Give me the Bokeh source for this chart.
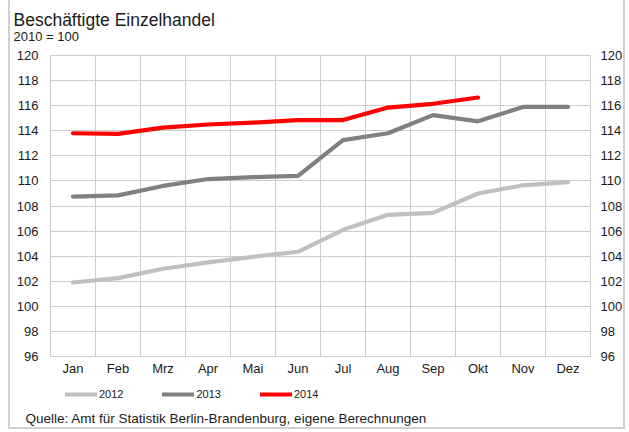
import numpy as np
from bokeh.plotting import figure
from bokeh.models import (FixedTicker, LinearAxis, Legend, LegendItem, Label,
                          Range1d, ColumnDataSource)
from bokeh.embed import file_html
from bokeh.resources import INLINE

# ---- data ----
months = ["Jan", "Feb", "Mrz", "Apr", "Mai", "Jun", "Jul", "Aug", "Sep", "Okt", "Nov", "Dez"]
y2012 = [101.9, 102.25, 103.0, 103.5, 103.95, 104.35, 106.1, 107.3, 107.45, 109.0, 109.65, 109.9]
y2013 = [108.75, 108.85, 109.6, 110.15, 110.3, 110.4, 113.25, 113.8, 115.25, 114.75, 115.9, 115.9]
y2014 = [113.8, 113.75, 114.25, 114.5, 114.65, 114.85, 114.85, 115.85, 116.15, 116.65]
years = ["2012", "2013", "2014"]
colors = ["#c0c0c0", "#808080", "#ff0000"]
y_ticks = list(range(96, 121, 2))

title_text = "Beschäftigte Einzelhandel"
subtitle_text = "2010 = 100"
source_text = "Quelle: Amt für Statistik Berlin-Brandenburg, eigene Berechnungen"

FONT = "Liberation Sans"
GRID = "#cccccc"
TXT = "#1a1a1a"

# ---- layout (pixels) ----
W, H = 617, 429            # canvas size
PLOT_L, PLOT_T = 40, 55    # plot area left / top inside canvas
COL_W = 45                 # width of one month column
PLOT_H = 301               # height of plot area (96..120)

n = len(months)
ymin, ymax = y_ticks[0], y_ticks[-1]
ppu = PLOT_H / (ymax - ymin)        # pixels per y unit


def dx(px):   # canvas x pixel -> data x
    return (px - PLOT_L) / COL_W


def dy(py):   # canvas y pixel (from top) -> data y
    return ymax - (py - PLOT_T) / ppu


p = figure(width=W, height=H, min_border=0,
           x_range=Range1d(dx(0), dx(W)), y_range=Range1d(dy(H), dy(0)),
           output_backend="svg", toolbar_location=None, title=None,
           y_axis_location=None, x_axis_location=None)
p.margin = (0, 0, 0, 8)
p.outline_line_color = None
p.background_fill_color = "white"
p.border_fill_color = "white"
p.styles = {"border-left": "2px solid #d0d0d0", "border-right": "2px solid #d0d0d0",
            "border-bottom": "2px solid #d0d0d0"}

# axes placed at the plot-area edges
xaxis = LinearAxis(ticker=FixedTicker(ticks=[i + 0.5 for i in range(n)]),
                   major_label_overrides={i + 0.5: m for i, m in enumerate(months)},
                   fixed_location=ymin)
yl = LinearAxis(ticker=FixedTicker(ticks=y_ticks), fixed_location=0)
yr = LinearAxis(ticker=FixedTicker(ticks=y_ticks), fixed_location=n)
for ax, st in ((xaxis, 4), (yl, 12), (yr, 10)):
    ax.axis_line_color = None
    ax.major_tick_line_color = None
    ax.minor_tick_line_color = None
    ax.major_tick_out = 0
    ax.major_tick_in = 0
    ax.major_label_standoff = st
    ax.major_label_text_font = FONT
    ax.major_label_text_font_size = "13px"
    ax.major_label_text_color = TXT
p.add_layout(xaxis, "below")
p.add_layout(yl, "left")
p.add_layout(yr, "right")

p.xgrid.ticker = FixedTicker(ticks=list(range(n + 1)))
p.xgrid.bounds = (0, n)
p.xgrid.cross_bounds = (ymin, ymax)
p.ygrid.ticker = FixedTicker(ticks=y_ticks)
p.ygrid.bounds = (ymin, ymax)
p.ygrid.cross_bounds = (0, n)
for g in (p.xgrid, p.ygrid):
    g.grid_line_color = GRID
    g.grid_line_width = 1

renderers = []
for yr_name, vals, c in zip(years, [y2012, y2013, y2014], colors):
    src = ColumnDataSource(dict(x=np.arange(len(vals)) + 0.5, y=vals))
    r = p.line("x", "y", source=src, line_color=c, line_width=4.2,
               line_join="round", line_cap="round")
    renderers.append(r)

legend = Legend(items=[LegendItem(label=yr_name, renderers=[r]) for yr_name, r in zip(years, renderers)],
                orientation="horizontal", location=(55, 29),
                glyph_width=32, glyph_height=10, label_height=10, label_standoff=2,
                spacing=39, padding=0, margin=0, border_line_color=None,
                background_fill_alpha=0,
                label_text_font=FONT, label_text_font_size="11px", label_text_color=TXT)
p.add_layout(legend, "center")

p.add_layout(Label(x=dx(3), y=dy(19.5), text=title_text,
                   text_font=FONT, text_font_size="17.5px", text_color=TXT,
                   text_baseline="alphabetic"))
p.add_layout(Label(x=dx(3), y=dy(36), text=subtitle_text,
                   text_font=FONT, text_font_size="13px", text_color=TXT,
                   text_baseline="alphabetic"))
p.add_layout(Label(x=dx(15), y=dy(418), text=source_text,
                   text_font=FONT, text_font_size="13.5px", text_color=TXT,
                   text_baseline="alphabetic"))

open("out.html", "w").write(file_html(p, INLINE))
